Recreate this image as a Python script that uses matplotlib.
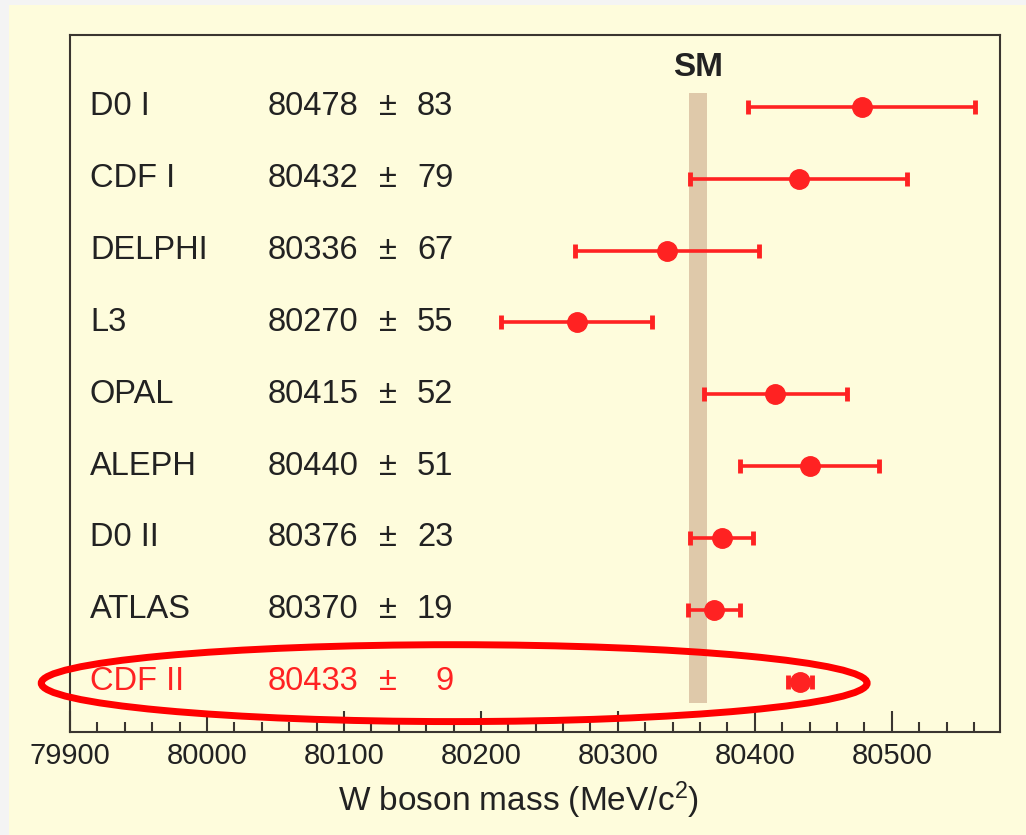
import matplotlib
matplotlib.use("Agg")
import matplotlib.pyplot as plt
from matplotlib.patches import Ellipse, Rectangle
from matplotlib.ticker import MultipleLocator
import matplotlib.transforms as mtransforms

# W boson mass measurements (MeV/c^2)
names = ['D0 I', 'CDF I', 'DELPHI', 'L3', 'OPAL', 'ALEPH', 'D0 II', 'ATLAS', 'CDF II']
masses = [80478, 80432, 80336, 80270, 80415, 80440, 80376, 80370, 80433]
errors = [83, 79, 67, 55, 52, 51, 23, 19, 9]
sm_mass = 80358.5
sm_halfwidth = 6.5

bg = '#fefcdc'
red = '#ff2222'
ink = '#222222'

plt.rcParams['font.family'] = ['Liberation Sans', 'DejaVu Sans']
plt.rcParams['mathtext.fontset'] = 'custom'
plt.rcParams['mathtext.rm'] = 'Liberation Sans'
plt.rcParams['mathtext.it'] = 'Liberation Sans:italic'

fig = plt.figure(figsize=(10.26, 8.35), dpi=100)
fig.patch.set_facecolor(bg)
# light grey strip at the left/top edge of the screenshot
fig.add_artist(Rectangle((0, 0), 9/1026, 1, transform=fig.transFigure, color='#f4f4f4', lw=0))
fig.add_artist(Rectangle((0, 1 - 5/835), 1, 5/835, transform=fig.transFigure, color='#f4f4f4', lw=0))

ax = fig.add_axes([70/1026, 1 - 732/835, 930/1026, 697/835])
ax.set_facecolor(bg)

n = len(names)
ypos = [n - 1 - i for i in range(n)]

# SM band
ax.fill_between([sm_mass - sm_halfwidth, sm_mass + sm_halfwidth], -0.29, n - 1 + 0.19,
                color='#dfc9aa', lw=0, zorder=1)
ax.text(sm_mass, n - 1 + 0.55, 'SM', ha='center', va='center', fontsize=24,
        fontweight='bold', color=ink)

ax.errorbar(masses, ypos, xerr=errors, fmt='o', color=red, ms=14, elinewidth=2.6,
            capsize=5, capthick=3.5, zorder=3)

fs = 23.5
trans = mtransforms.blended_transform_factory(ax.transAxes, ax.transData)
for i in range(n):
    c = red if names[i] == 'CDF II' else ink
    y = ypos[i]
    ax.text(0.0215, y, names[i], transform=trans, ha='left', va='center', fontsize=fs, color=c)
    ax.text(0.213, y, str(masses[i]), transform=trans, ha='left', va='center', fontsize=fs, color=c)
    ax.text(0.342, y, '\u00b1', transform=trans, ha='center', va='center', fontsize=fs, color=c)
    ax.text(0.412, y, str(errors[i]), transform=trans, ha='right', va='center', fontsize=fs, color=c)

# highlight ellipse around CDF II
ax.add_patch(Ellipse((80180.5, -0.02), 603, 1.07, fill=False, ec='#ff0000', lw=5,
                     clip_on=False, zorder=4))

ax.set_xlim(79900, 80579)
ax.set_ylim(-0.7, n - 1 + 1.0)
ax.xaxis.set_major_locator(MultipleLocator(100))
ax.xaxis.set_minor_locator(MultipleLocator(20))
ax.tick_params(axis='x', which='major', direction='in', length=15, width=1.5,
               color='#3a3530', labelsize=21, labelcolor=ink, pad=7)
ax.tick_params(axis='x', which='minor', direction='in', length=7, width=1.5, color='#3a3530')
ax.set_yticks([])
for s in ax.spines.values():
    s.set_color('#3a3530')
    s.set_linewidth(1.5)

ax.set_xlabel('W boson mass (MeV/c$^{2}$)', fontsize=24, color=ink)
ax.xaxis.set_label_coords(0.482, -0.068)

fig.savefig('out.png', dpi=100, facecolor=bg)
